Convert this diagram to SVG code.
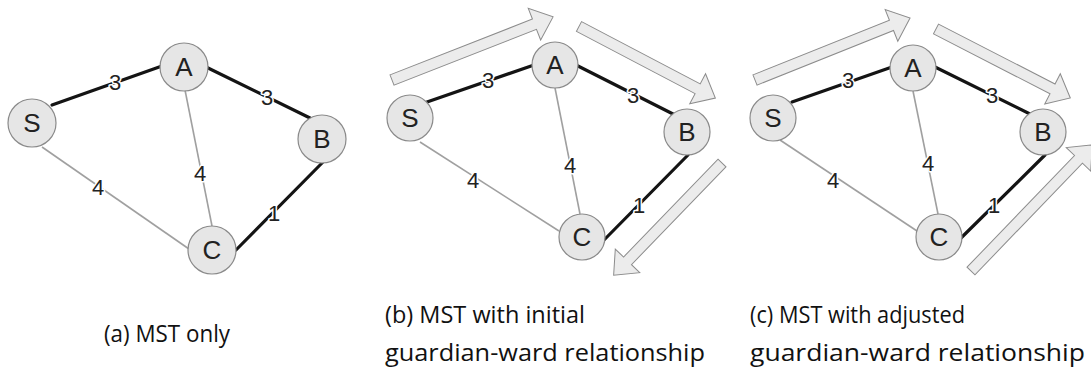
<svg xmlns="http://www.w3.org/2000/svg" width="1091" height="373" viewBox="0 0 1091 373">
<style>
.thick{stroke:#141414;stroke-width:3.2;fill:none;stroke-linecap:round}
.thin{stroke:#a0a0a0;stroke-width:1.6;fill:none}
.node circle{fill:#e6e6e6;stroke:#8a8a8a;stroke-width:1.2}
.node text{font-family:"Liberation Sans",Arial,sans-serif;font-size:26px;fill:#222;text-anchor:middle}
.lbl{font-family:"Liberation Sans",Arial,sans-serif;font-size:22px;fill:#222;text-anchor:middle;stroke:#fff;stroke-width:3;paint-order:stroke;stroke-linejoin:round}
.blk{fill:#ececec;stroke:#8c8c8c;stroke-width:1}
.cap{font-family:"Open Sans","Noto Sans",sans-serif;font-size:23px;fill:#111}
</style>
<rect width="1091" height="373" fill="#fff"/>
<g id="connectors">
  <!-- panel a -->
  <line class="thick" x1="52" y1="105" x2="162" y2="66"/>
  <line class="thick" x1="206" y1="67" x2="310" y2="118"/>
  <line class="thin" x1="185" y1="90" x2="212" y2="226"/>
  <line class="thin" x1="42" y1="147" x2="189" y2="249"/>
  <line class="thick" x1="323" y1="162" x2="236" y2="250"/>
  <!-- panel b -->
  <line class="thick" x1="427" y1="102" x2="534" y2="65"/>
  <line class="thick" x1="576" y1="65" x2="675" y2="115"/>
  <line class="thin" x1="555" y1="88" x2="580" y2="214"/>
  <line class="thin" x1="420" y1="142" x2="559" y2="231"/>
  <line class="thick" x1="688" y1="155" x2="604" y2="240"/>
  <!-- panel c -->
  <line class="thick" x1="792" y1="102" x2="892" y2="67"/>
  <line class="thick" x1="935" y1="67" x2="1032" y2="115"/>
  <line class="thin" x1="913" y1="91" x2="938" y2="214"/>
  <line class="thin" x1="780" y1="140" x2="917" y2="231"/>
  <line class="thick" x1="1045" y1="155" x2="961" y2="238"/>
  <!-- edge labels -->
  <text class="lbl" x="115" y="90">3</text>
  <text class="lbl" x="267" y="105">3</text>
  <text class="lbl" x="200" y="181">4</text>
  <text class="lbl" x="98" y="195">4</text>
  <text class="lbl" x="274" y="221">1</text>
  <text class="lbl" x="488" y="88">3</text>
  <text class="lbl" x="633" y="103">3</text>
  <text class="lbl" x="570" y="173">4</text>
  <text class="lbl" x="473" y="188">4</text>
  <text class="lbl" x="639" y="213">1</text>
  <text class="lbl" x="848" y="88">3</text>
  <text class="lbl" x="992" y="103">3</text>
  <text class="lbl" x="928" y="171">4</text>
  <text class="lbl" x="833" y="188">4</text>
  <text class="lbl" x="994" y="213">1</text>
</g>
<g id="arrows">
  <polygon class="blk" transform="translate(392,80) rotate(-21.4)" points="0,-5.5 153,-5.5 153,-17 173,0 153,17 153,5.5 0,5.5"/>
  <polygon class="blk" transform="translate(579,26.5) rotate(27.7)" points="0,-5.5 134,-5.5 134,-17 154,0 134,17 134,5.5 0,5.5"/>
  <polygon class="blk" transform="translate(722,163) rotate(134)" points="0,-5.5 136,-5.5 136,-17 156,0 136,17 136,5.5 0,5.5"/>
  <polygon class="blk" transform="translate(755,80) rotate(-21.8)" points="0,-5.5 147,-5.5 147,-17 167,0 147,17 147,5.5 0,5.5"/>
  <polygon class="blk" transform="translate(936,29) rotate(27.2)" points="0,-5.5 131,-5.5 131,-17 151,0 131,17 131,5.5 0,5.5"/>
  <polygon class="blk" transform="translate(971,271) rotate(-46.1)" points="0,-5.5 155,-5.5 155,-17 175,0 155,17 155,5.5 0,5.5"/>
</g>
<g id="a-S" class="node"><circle cx="32" cy="123" r="24"/><text x="32" y="132">S</text></g>
<g id="a-A" class="node"><circle cx="184" cy="67" r="24"/><text x="184" y="76">A</text></g>
<g id="a-B" class="node"><circle cx="322" cy="139" r="24"/><text x="322" y="148">B</text></g>
<g id="a-C" class="node"><circle cx="212" cy="250" r="24"/><text x="212" y="259">C</text></g>
<g id="b-S" class="node"><circle cx="410" cy="118" r="23"/><text x="410" y="127">S</text></g>
<g id="b-A" class="node"><circle cx="555" cy="65" r="23"/><text x="555" y="74">A</text></g>
<g id="b-B" class="node"><circle cx="687" cy="132" r="23"/><text x="687" y="141">B</text></g>
<g id="b-C" class="node"><circle cx="582" cy="237" r="23"/><text x="582" y="246">C</text></g>
<g id="c-S" class="node"><circle cx="773" cy="118" r="23"/><text x="773" y="127">S</text></g>
<g id="c-A" class="node"><circle cx="913" cy="68" r="23"/><text x="913" y="77">A</text></g>
<g id="c-B" class="node"><circle cx="1043" cy="132" r="23"/><text x="1043" y="141">B</text></g>
<g id="c-C" class="node"><circle cx="939" cy="237" r="23"/><text x="939" y="246">C</text></g>
<g id="captions">
  <text class="cap" x="104" y="342" textLength="126" lengthAdjust="spacingAndGlyphs">(a) MST only</text>
  <text class="cap" x="385" y="323" textLength="200" lengthAdjust="spacingAndGlyphs">(b) MST with initial</text>
  <text class="cap" x="385" y="361" textLength="320" lengthAdjust="spacingAndGlyphs">guardian-ward relationship</text>
  <text class="cap" x="750" y="323" textLength="215" lengthAdjust="spacingAndGlyphs">(c) MST with adjusted</text>
  <text class="cap" x="750" y="361" textLength="335" lengthAdjust="spacingAndGlyphs">guardian-ward relationship</text>
</g>
</svg>
